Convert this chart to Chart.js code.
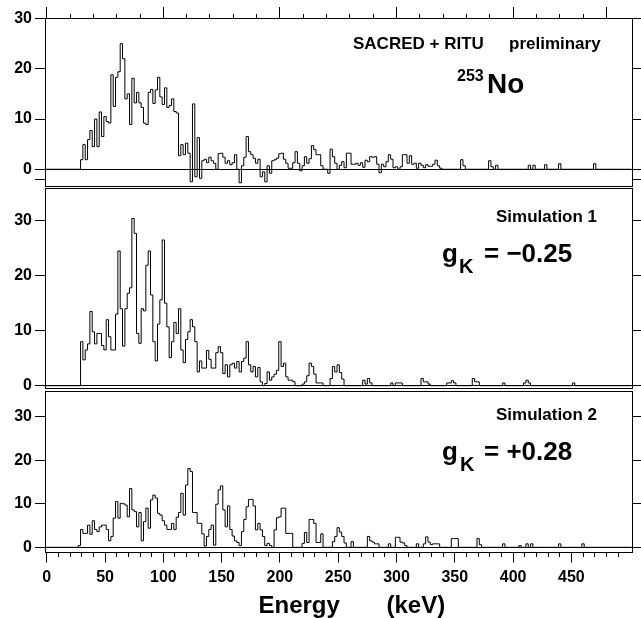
<!DOCTYPE html>
<html>
<head>
<meta charset="utf-8">
<script src="https://cdn.jsdelivr.net/npm/chart.js@4.4.0/dist/chart.umd.min.js"></script>
<style>
html, body { margin: 0; padding: 0; background: #fff; }
#wrap { position: relative; width: 641px; height: 618px; }
#wrap canvas { position: absolute; left: 0; top: 0; }
</style>
</head>
<body>
<div id="wrap">
  <canvas id="panel1" width="641" height="618"></canvas>
  <canvas id="panel2" width="641" height="618"></canvas>
  <canvas id="panel3" width="641" height="618"></canvas>
</div>
<script>
// energy bins, 2 keV wide, first bin starts at 27 keV
const binStart = 27;
const binWidth = 2;

// 253No, SACRED + RITU (background subtracted, so some bins go negative)
const measured = [
  0,
  1.9, 4.9, 1.9, 5.9, 7.7, 4.5, 10, 4.5, 11.4, 6.5,
  10.5, 9.5, 9.2, 18.8, 12.5, 18.3, 19.4, 25, 22, 14,
  15, 8.9, 18.1, 13.2, 15.3, 13.2, 12.3, 9.2, 8.9, 15.3,
  15.9, 13.1, 15.8, 18.3, 14.4, 12.9, 16.2, 12.3, 12.7, 14,
  11.5, 11.2, 2.7, 4.9, 2.9, 5.2, 3.2, -2.5, 13, -1.5,
  6.3, -1.8, 1.7, 2, 1.3, 2.4, 1.7, 1.2, 0, 3.1,
  3.2, 2.4, 1.2, 1.7, 0.9, 1.3, 2.9, 0, -2.7, 0.7,
  2.4, 6.5, 3.5, 2.9, 2.2, 1.2, 2, -1.5, -0.5, -2.5,
  0.7, -0.8, 1.7, 1.9, 2.2, 3.1, 3.2, 2, 1.2, 0.2,
  0.2, 1.3, 3.5, 1.2, -0.3, 0.7, 2.5, 1.2, 2.1, 4.7,
  3.9, 2.9, 2.9, 0.7, 0, 0, -0.8, 4, 2.5, 1.2,
  0, 0.8, 1.5, 0.3, 3.2, 3.2, 1, 1, 1.2, 0.8,
  1.3, 0.4, 1.8, 1.5, 2.5, 2.4, 2.5, 1, -0.7, 1,
  0.5, 1.5, 2.9, 2, 0.3, 0.5, 0, 0.5, 2.9, 2.9,
  1.2, 2.7, 1, 1.2, 0.2, 1.2, 0.8, 0.3, 0.9, 0.6,
  0.6, 1, 1.8, 0.7, 0.2, 0, 0, 0, 0, 0,
  0, 0, 0, 1.9, 0.7, 0, 0, 0, 0, 0,
  0, 0, 0, 0, 0, 1.7, 0.5, 0, 0.8, 0,
  0, 0, 0, 0, 0, 0, 0, 0, 0, 0,
  0, 0, 0.8, 0, 0.8, 0, 0, 0, 0, 0.9,
  0, 0, 0, 0, 0, 1.1, 0, 0, 0, 0,
  0, 0, 0, 0, 0, 0, 0, 0, 0, 0,
  1.1, 0, 0, 0, 0, 0, 0, 0, 0, 0,
  0, 0, 0, 0, 0, 0
];

// simulation 1, gK = -0.25
const sim1 = [
  0,
  8, 4.7, 6.5, 7.6, 13.5, 9.8, 7.6, 9.5, 9.5, 7.3,
  6.5, 12, 8.9, 6.5, 6.5, 13, 24.5, 14, 7.2, 14,
  16.8, 17.8, 30.4, 27.7, 9.5, 7.7, 14, 13.6, 21.9, 24.5,
  16.5, 8, 4.5, 11.2, 15.6, 26.5, 15, 10.7, 5.1, 8,
  11.5, 9.5, 14, 6.5, 4.2, 8.4, 9.8, 12, 10.7, 8,
  2.5, 4.5, 3.2, 3.2, 6.4, 4.8, 3.2, 3.2, 6, 7.1,
  6, 2.2, 3.8, 1.6, 3.8, 4.1, 3.2, 4.4, 2.5, 4.4,
  5, 8, 3.8, 2.5, 3.5, 1.6, 3.3, 0.7, 0, 0.4,
  2.5, 1, 1.6, 2.1, 2.8, 8, 3.5, 4.1, 1.6, 1,
  1, 0.7, 0, 0, 0, 0.3, 0.7, 1.8, 4.1, 3.5,
  2.1, 0.5, 0.5, 0.5, 0, 0, 0, 1.3, 3.5, 2.5,
  3.8, 2.4, 1.2, 0, 0, 0, 0, 0, 0, 0,
  0, 1, 0.3, 1.3, 0.5, 0, 0, 0, 0, 0,
  0, 0, 0, 0.5, 0, 0.5, 0.5, 0.5, 0, 0,
  0, 0, 0, 0, 0, 0, 1.3, 0.7, 0.7, 0.3,
  0, 0, 0, 0, 0, 0, 0, 0.5, 0.5, 0.9,
  0.5, 0, 0, 0, 0, 0, 0, 0, 1.3, 0.7,
  0.7, 0, 0, 0, 0, 0, 0, 0, 0, 0,
  0, 0.5, 0, 0, 0, 0, 0, 0, 0, 0,
  0.5, 1, 0.5, 0, 0, 0, 0, 0, 0, 0,
  0, 0, 0, 0, 0, 0, 0, 0, 0, 0,
  0, 0.5, 0, 0, 0, 0, 0, 0, 0, 0,
  0, 0, 0, 0, 0, 0, 0, 0, 0, 0,
  0, 0, 0, 0, 0, 0
];

// simulation 2, gK = +0.28
const sim2 = [
  0.4,
  4.1, 3.2, 3.2, 5.1, 3, 6.1, 4.1, 3.6, 4.7, 5.1,
  5.1, 4.1, 1.5, 2.5, 6.7, 10.5, 6.7, 10.1, 10, 9.7,
  7, 13.5, 8.6, 8.2, 4.7, 8, 1.5, 5.9, 9, 4.4,
  10.9, 12, 11.3, 7.8, 7.4, 6.1, 5.1, 4.1, 4.1, 5.5,
  4.1, 6.9, 8, 12.4, 7.4, 14.3, 18.1, 17.4, 8, 8,
  5.5, 5.5, 3.1, 0.3, 2.5, 4.1, 5.1, 0.5, 9.9, 13.2,
  14.1, 8.6, 4.7, 9.5, 4.1, 2.6, 1.5, 1.1, 0.4, 3.6,
  6.4, 9.3, 11, 11, 9.5, 4, 5.5, 4, 2.5, 0.4,
  0.9, 0.4, 0, 4, 6.8, 7, 9, 9, 3.2, 3.2,
  3.2, 0, 0, 0, 0, 0.9, 3.4, 1.1, 6.4, 6.4,
  5.5, 1.1, 1.1, 3.1, 0, 0, 0, 0, 1.3, 2.5,
  4.5, 3.5, 2.5, 1, 0, 0, 1.3, 0, 0, 0,
  0, 0, 0, 2.5, 1.5, 1.2, 0.8, 0.8, 0, 0,
  0, 0, 0.8, 0, 0, 2.3, 2.3, 1.2, 1, 0.4,
  0, 0, 0, 0, 0.8, 0, 0, 0.8, 2.4, 1.2,
  0.6, 0.8, 0.8, 0.8, 0, 0, 0, 0, 0, 2,
  2, 2, 0, 0, 0, 0, 0, 0, 0, 0,
  2, 0.6, 0, 0, 0, 0, 0, 0, 0, 0,
  0, 0.8, 0, 0, 0, 0, 0, 0, 0.4, 0,
  0, 0.8, 0, 0.8, 0, 0, 0, 0, 0, 0,
  0, 0, 0, 0, 0, 0.8, 0, 0, 0, 0,
  0, 0, 0, 0, 0, 0.8, 0, 0, 0, 0,
  0, 0, 0, 0, 0, 0, 0, 0, 0, 0,
  0, 0, 0, 0, 0, 0
];

const yTicksMeasured = [-2, 0, 10, 20, 30];
const yTicksSim = [0, 10, 20, 30];
const xTickLabels = [0, 50, 100, 150, 200, 250, 300, 350, 400, 450];
const topMajorTicks = [0, 100, 200, 300, 400, 480];

const FONT = "'Liberation Sans', Arial, Helvetica, sans-serif";
const W = 641, H = 618;
const X_MIN = -1.5, X_MAX = 502;

Chart.defaults.font.family = FONT;
Chart.defaults.font.weight = 'bold';
Chart.defaults.color = '#000';

// minor tick positions (every 10 keV below, every 20 keV on top)
const bottomTickValues = [];
for (let v = 0; v <= 490; v += 10) bottomTickValues.push(v);
const topTickValues = [];
for (let v = 0; v <= 480; v += 20) topTickValues.push(v);

function histPoints(values) {
  const pts = [{ x: X_MIN, y: 0 }];
  values.forEach((v, i) => pts.push({ x: binStart + i * binWidth, y: v }));
  pts.push({ x: binStart + values.length * binWidth, y: values[values.length - 1] });
  return pts;
}

function textPlugin(items) {
  return {
    id: 'panelText',
    afterDraw(chart) {
      const ctx = chart.ctx;
      ctx.save();
      ctx.fillStyle = '#000';
      ctx.textAlign = 'left';
      ctx.textBaseline = 'alphabetic';
      items.forEach(it => {
        ctx.font = 'bold ' + it.size + 'px ' + FONT;
        ctx.fillText(it.text, it.x, it.y);
      });
      ctx.restore();
    }
  };
}

function yAxis(p, side) {
  const left = side === 'left';
  return {
    type: 'linear',
    position: side,
    min: p.yMin,
    max: p.yMax,
    afterBuildTicks: s => { s.ticks = p.yTicks.map(v => ({ value: v })); },
    afterFit: s => { s.width = left ? 45 : W - 632; s.paddingTop = 0; s.paddingBottom = 0; },
    border: { display: true, color: '#000', width: 1 },
    grid: {
      drawOnChartArea: left,
      tickLength: left ? 10 : 9,
      tickColor: '#000',
      color: c => (c.tick && c.tick.value === 0) ? '#000' : 'rgba(0,0,0,0)'
    },
    ticks: {
      display: left,
      padding: 3,
      font: { size: 16, weight: 'bold' },
      callback: v => v < 0 ? '' : String(v)
    }
  };
}

function xAxis(p, pos) {
  const isTop = pos === 'top';
  const size = isTop ? p.top : H - p.bottom;
  const axis = {
    type: 'linear',
    position: pos,
    min: X_MIN,
    max: X_MAX,
    afterFit: s => { s.height = size; s.paddingLeft = 0; s.paddingRight = 0; },
    border: { display: true, color: '#000', width: 1 },
    grid: { display: false },
    ticks: { display: false }
  };
  if (isTop && p.topTicks) {
    axis.afterBuildTicks = s => { s.ticks = topTickValues.map(v => ({ value: v })); };
    axis.grid = {
      display: true, drawOnChartArea: false, tickLength: 11, tickColor: '#000',
      tickBorderDash: c => topMajorTicks.includes(c.tick.value) ? [] : [0, 7, 4, 40]
    };
  }
  if (!isTop && p.bottomTicks) {
    axis.afterBuildTicks = s => { s.ticks = bottomTickValues.map(v => ({ value: v })); };
    axis.grid = {
      display: true, drawOnChartArea: false, tickLength: 10, tickColor: '#000',
      tickBorderDash: c => c.tick.value % 50 === 0 ? [] : [4, 40]
    };
    axis.ticks = {
      display: true, autoSkip: false, maxRotation: 0, minRotation: 0, padding: 5,
      font: { size: 16, weight: 'bold' },
      callback: v => xTickLabels.includes(v) ? String(v) : ''
    };
    axis.title = {
      display: true, text: '    Energy       (keV)',
      font: { size: 24, weight: 'bold', lineHeight: 1 }, padding: { top: 0, bottom: 0 }
    };
  }
  return axis;
}

const panels = [
  {
    id: 'panel1', values: measured, yMin: -3.33, yMax: 30.1, yTicks: yTicksMeasured,
    top: 18, bottom: 186, topTicks: true,
    texts: [
      { text: 'SACRED + RITU', x: 353, y: 49, size: 17 },
      { text: 'preliminary', x: 509, y: 49, size: 17 },
      { text: '253', x: 457, y: 81, size: 16 },
      { text: 'No', x: 487, y: 93, size: 28 }
    ]
  },
  {
    id: 'panel2', values: sim1, yMin: -0.42, yMax: 35.95, yTicks: yTicksSim,
    top: 188, bottom: 388,
    texts: [
      { text: 'Simulation 1', x: 496, y: 222, size: 17 },
      { text: 'g', x: 442, y: 262, size: 26 },
      { text: 'K', x: 459, y: 273, size: 20 },
      { text: '= \u22120.25', x: 484, y: 262, size: 26 }
    ]
  },
  {
    id: 'panel3', values: sim2, yMin: -1.19, yMax: 35.9, yTicks: yTicksSim,
    top: 391, bottom: 552.5, bottomTicks: true,
    texts: [
      { text: 'Simulation 2', x: 496, y: 420, size: 17 },
      { text: 'g', x: 442, y: 460, size: 26 },
      { text: 'K', x: 460, y: 471, size: 20 },
      { text: '= +0.28', x: 484, y: 460, size: 26 }
    ]
  }
];

panels.forEach(p => {
  new Chart(document.getElementById(p.id), {
    type: 'line',
    data: {
      datasets: [{
        data: histPoints(p.values),
        xAxisID: 'x',
        yAxisID: 'y',
        stepped: 'before',
        borderColor: '#000',
        borderWidth: 1,
        pointRadius: 0,
        fill: false
      }]
    },
    options: {
      responsive: false,
      animation: false,
      events: [],
      layout: { padding: 0 },
      plugins: { legend: { display: false }, tooltip: { enabled: false } },
      scales: {
        x: xAxis(p, 'bottom'),
        xt: xAxis(p, 'top'),
        y: yAxis(p, 'left'),
        yr: yAxis(p, 'right')
      }
    },
    plugins: [textPlugin(p.texts)]
  });
});
</script>
</body>
</html>
